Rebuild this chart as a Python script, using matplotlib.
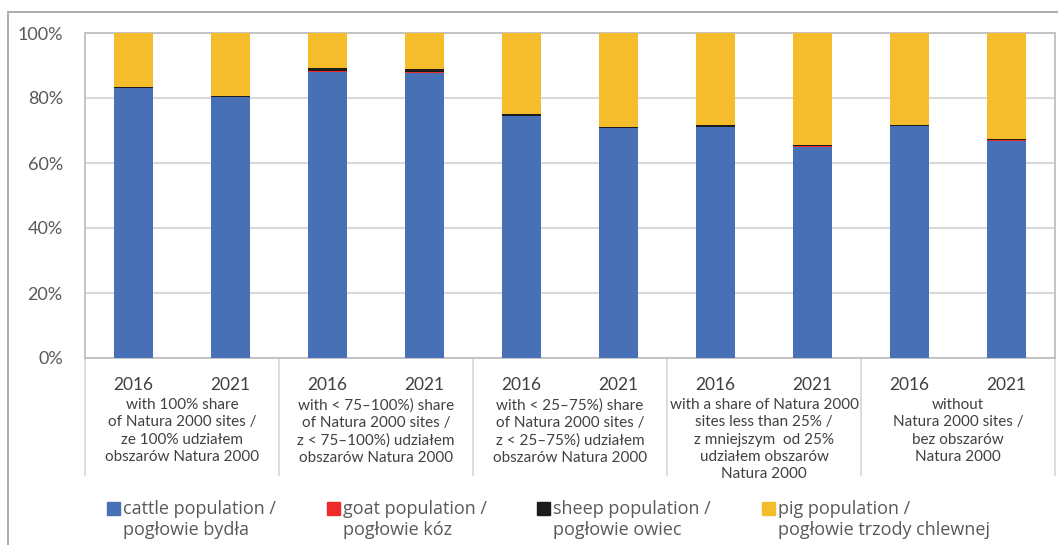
import matplotlib
matplotlib.use('Agg')
import matplotlib.pyplot as plt
from matplotlib.patches import Rectangle
from matplotlib.ticker import FuncFormatter

plt.rcParams['font.family'] = ['Lato', 'DejaVu Sans']

# data (share of livestock population, %)
years = ['2016', '2021'] * 5
groups = ['with 100% share\nof Natura 2000 sites /\nze 100% udziałem\nobszarów Natura 2000',
          'with < 75–100%) share\nof Natura 2000 sites /\nz < 75–100%) udziałem\nobszarów Natura 2000',
          'with < 25–75%) share\nof Natura 2000 sites /\nz < 25–75%) udziałem\nobszarów Natura 2000',
          'with a share of Natura 2000\nsites less than 25% /\nz mniejszym  od 25%\nudziałem obszarów\nNatura 2000',
          'without\nNatura 2000 sites /\nbez obszarów\nNatura 2000']
cattle = [83.0, 80.2, 87.9, 87.6, 74.5, 70.7, 71.1, 64.9, 71.4, 66.8]
goat = [0.2, 0.2, 0.3, 0.3, 0.1, 0.2, 0.1, 0.2, 0.1, 0.2]
sheep = [0.3, 0.3, 1.0, 0.9, 0.5, 0.3, 0.4, 0.5, 0.1, 0.3]
pig = [16.5, 19.3, 10.8, 11.2, 24.9, 28.8, 28.4, 34.4, 28.4, 32.7]

series_labels = ['cattle population /\npogłowie bydła', 'goat population /\npogłowie kóz',
                 'sheep population /\npogłowie owiec', 'pig population /\npogłowie trzody chlewnej']
colors = ['#4770b7', '#ee2a2a', '#1c1c1c', '#f5bd2b']

W, H = 1058, 545
fig = plt.figure(figsize=(W / 100, H / 100), dpi=100)

# outer frame of the chart
fig.patches.append(Rectangle((8 / W, -0.1), 1.2, (H - 12) / H + 0.1, transform=fig.transFigure,
                             fill=False, edgecolor='#a6a6a6', linewidth=1.3))

ax = fig.add_axes([85 / W, (H - 358) / H, 970 / W, 325 / H])

x = list(range(len(cattle)))
bottom = [0.0] * len(x)
for vals, c in zip([cattle, goat, sheep, pig], colors):
    ax.bar(x, vals, width=0.4, bottom=bottom, color=c, zorder=3)
    bottom = [b + v for b, v in zip(bottom, vals)]

ax.set_xlim(-0.5, len(x) - 0.5)
ax.set_ylim(0, 100)
ax.set_yticks([0, 20, 40, 60, 80, 100])
ax.yaxis.set_major_formatter(FuncFormatter(lambda v, p: f'{v:.0f}%'))
ax.grid(axis='y', color='#d9d9d9', linewidth=1.5, zorder=0)
for s in ax.spines.values():
    s.set_color('#bfbfbf')
    s.set_linewidth(1.3)

ax.set_xticks(x)
ax.set_xticklabels(years)
ax.tick_params(axis='x', length=0, pad=14, labelsize=12.5, labelcolor='#404040')
ax.tick_params(axis='y', length=0, pad=16, labelsize=13, labelcolor='#595959')

# group labels and separators below the axis
trans = ax.get_xaxis_transform()
for i, g in enumerate(groups):
    ax.text(2 * i + 0.5, -40 / 325, g, transform=trans, ha='center', va='top',
            fontsize=11, color='#404040', linespacing=1.3)
for b in range(len(groups) + 1):
    ax.plot([2 * b - 0.5, 2 * b - 0.5], [0, -117 / 325], transform=trans,
            color='#d9d9d9', linewidth=1.3, clip_on=False)

# legend drawn below the chart
leg_x = [107, 327, 537, 762]
for lx, lab, c in zip(leg_x, series_labels, colors):
    fig.patches.append(Rectangle((lx / W, (H - 515) / H), 13 / W, 13 / H,
                                 transform=fig.transFigure, color=c))
    fig.text((lx + 16) / W, (H - 500) / H, lab, ha='left', va='top',
             fontsize=13, color='#595959', linespacing=1.2,
             family=['Open Sans', 'DejaVu Sans'])

plt.savefig('out.png', dpi=100)
